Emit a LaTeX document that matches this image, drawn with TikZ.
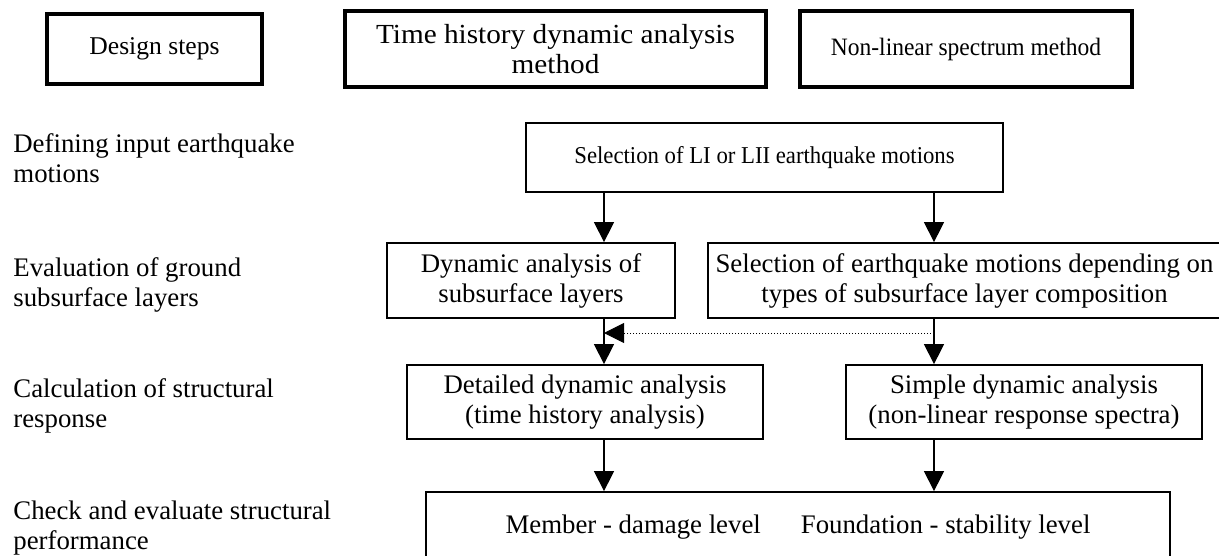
\documentclass[tikz,border=0pt]{standalone}
\usepackage{fontspec}
\setmainfont{Liberation Serif}
\newfontfamily\narrowserif[FakeStretch=0.94]{Liberation Serif}
\newfontfamily\wideserif[FakeStretch=1.06]{Liberation Serif}
\usetikzlibrary{arrows.meta}
\tikzset{
  headbox/.style={draw, line width=1.6pt, align=center, inner sep=2pt},
  stepbox/.style={draw, line width=0.9pt, align=center, inner sep=2pt},
  stage/.style={anchor=base west, align=left, inner sep=0pt},
  flow/.style={line width=0.7pt, -{Triangle[length=10pt,width=10pt]}},
  hint/.style={line width=0.5pt, dash pattern=on 0.5pt off 1pt, -{Triangle[length=10pt,width=10pt]}}
}

\begin{document}
\begin{tikzpicture}[x=0.5pt, y=-0.5pt, font=\fontsize{13.4}{15}\selectfont]
  \useasboundingbox (0,0) rectangle (1219,556);

  % Header
  \node[headbox, minimum width=107.5pt, minimum height=35pt, font=\fontsize{12.8}{15}\selectfont] (steps) at (154.5,49) {Design steps};
  \node[headbox, minimum width=210.5pt, minimum height=38pt, font=\wideserif\fontsize{13.8}{15}\selectfont] (thm) at (555.5,49) {Time history dynamic analysis\\method};
  \node[headbox, minimum width=166pt, minimum height=38pt, font=\narrowserif\fontsize{12.5}{15}\selectfont] (nlm) at (966,49) {Non-linear spectrum method};

  % Design steps (anchored at the last line)
  \node[stage] (s1) at (13,182) {Defining input earthquake\\motions};
  \node[stage] (s2) at (13,306) {Evaluation of ground\\subsurface layers};
  \node[stage] (s3) at (13,427) {Calculation of structural\\response};
  \node[stage] (s4) at (13,549) {Check and evaluate structural\\performance};

  % Flow
  \node[stepbox, minimum width=238.5pt, minimum height=34.5pt, font=\narrowserif\fontsize{12.1}{15}\selectfont] (sel) at (764.5,157.5) {Selection of LI or LII earthquake motions};
  \node[stepbox, minimum width=144pt, minimum height=37.5pt] (dyn) at (531,280.5) {Dynamic analysis of\\subsurface layers};
  \node[stepbox, minimum width=256.5pt, minimum height=37.5pt] (selq) at (964.5,280.5) {Selection of earthquake motions depending on\\types of subsurface layer composition};
  \node[stepbox, minimum width=178pt, minimum height=37pt] (det) at (585,402) {Detailed dynamic analysis\\(time history analysis)};
  \node[stepbox, minimum width=178pt, minimum height=37pt] (simp) at (1024,402) {Simple dynamic analysis\\(non-linear response spectra)};
  \node[stepbox, minimum width=372pt, minimum height=35pt] (chk) at (798,527) {Member - damage level\hspace{20pt}Foundation - stability level};

  % Arrows
  \coordinate (lft) at (604,333);
  \coordinate (rgt) at (934,333);
  \draw[flow] (sel.south -| lft) -- (dyn.north -| lft);
  \draw[flow] (sel.south -| rgt) -- (selq.north -| rgt);
  \draw[flow] (dyn.south -| lft) -- (det.north -| lft);
  \draw[flow] (selq.south -| rgt) -- (simp.north -| rgt);
  \draw[flow] (det.south -| lft) -- (chk.north -| lft);
  \draw[flow] (simp.south -| rgt) -- (chk.north -| rgt);
  \draw[hint] (rgt) -- (lft);
\end{tikzpicture}
\end{document}
